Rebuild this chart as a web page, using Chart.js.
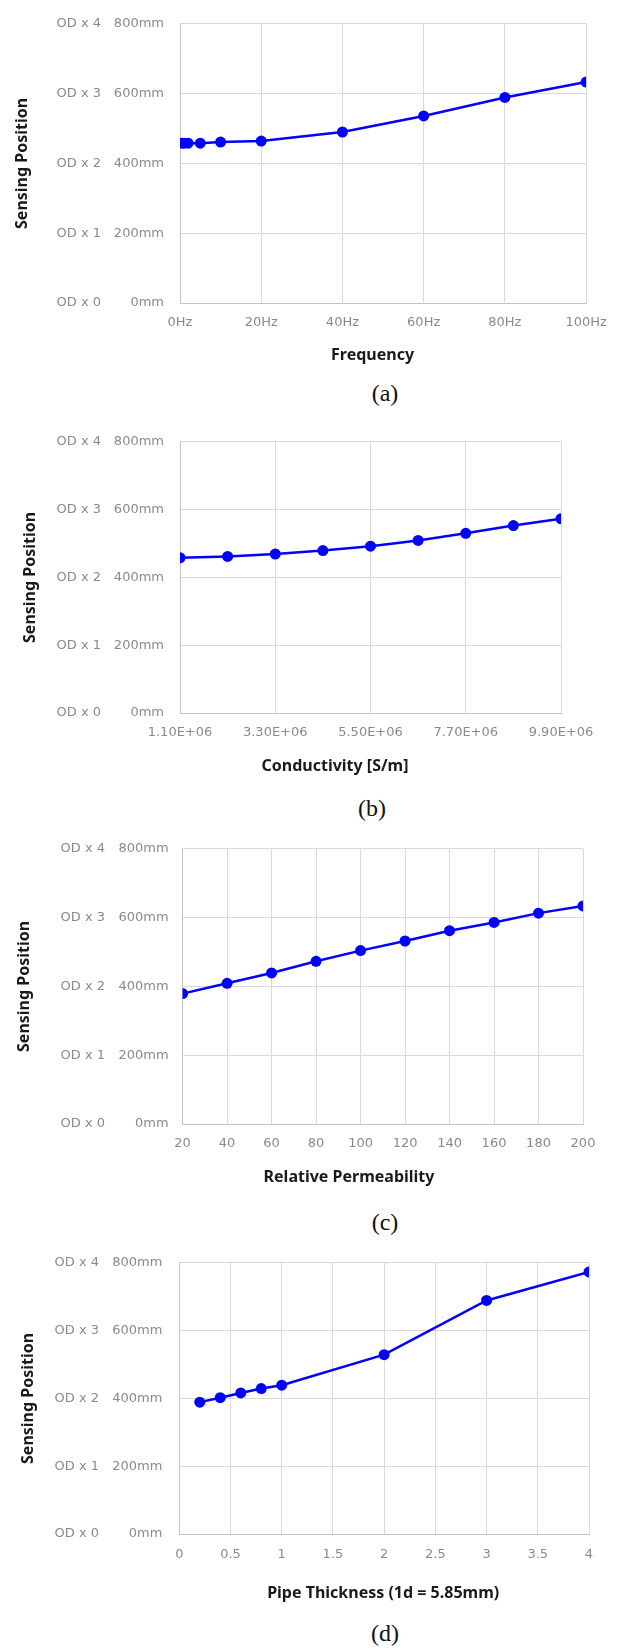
<!DOCTYPE html>
<html>
<head>
<meta charset="utf-8">
<script src="https://cdn.jsdelivr.net/npm/chart.js@4/dist/chart.umd.min.js"></script>
<style>
  html, body { margin: 0; padding: 0; background: #ffffff; }
  body { position: relative; width: 619px; height: 1648px; overflow: hidden; }
  .box { position: absolute; left: 0; width: 619px; }
  .cap { position: absolute; font-family: "Liberation Serif", "Times New Roman", serif; font-size: 24px; color: #111; transform: translate(-50%, -50%); white-space: nowrap; }
</style>
</head>
<body>
<div class="box" id="boxA"><canvas id="cA"></canvas></div>
<div class="box" id="boxB"><canvas id="cB"></canvas></div>
<div class="box" id="boxC"><canvas id="cC"></canvas></div>
<div class="box" id="boxD"><canvas id="cD"></canvas></div>
<div class="cap" style="left:385px;top:393px;">(a)</div>
<div class="cap" style="left:372px;top:808px;">(b)</div>
<div class="cap" style="left:385px;top:1222px;">(c)</div>
<div class="cap" style="left:385px;top:1633px;">(d)</div>
<script>
// ---- data ----
const yTicks = [0, 200, 400, 600, 800];

const freqHz = [0.5, 1, 2, 5, 10, 20, 40, 60, 80, 100];
const freqPos = [458, 458, 458, 458, 461, 464, 490, 536, 589, 633];
const freqTicks = [0, 20, 40, 60, 80, 100];

const condVals = [1.1e6, 2.2e6, 3.3e6, 4.4e6, 5.5e6, 6.6e6, 7.7e6, 8.8e6, 9.9e6];
const condPos = [458, 462, 469, 479, 492, 509, 530, 553, 573];
const condTicks = [1.1e6, 3.3e6, 5.5e6, 7.7e6, 9.9e6];

const permVals = [20, 40, 60, 80, 100, 120, 140, 160, 180, 200];
const permPos = [379, 409, 439, 473, 504, 532, 562, 586, 613, 634];
const permTicks = [20, 40, 60, 80, 100, 120, 140, 160, 180, 200];

const thickVals = [0.2, 0.4, 0.6, 0.8, 1, 2, 3, 4];
const thickPos = [389, 402, 416, 429, 439, 529, 689, 773];
const thickTicks = [0, 0.5, 1, 1.5, 2, 2.5, 3, 3.5, 4];

const yTitle = 'Sensing Position';

// ---- styling / layout ----
const TICK_FONT = { family: '"DejaVu Sans", "Noto Sans", sans-serif', size: 13 };
const TITLE_FONT = { family: '"Noto Sans", "Open Sans", sans-serif', size: 16, weight: 'bold' };
const TICK_COLOR = '#8a8a8a';
const GRID_COLOR = '#d9d9d9';
const BORDER_COLOR = '#c4c4c4';
const BLUE = '#0000ff';
const XH = 75;
const MMW = 72;

const titleShift = {
  id: 'titleShift',
  afterLayout(chart, args, opts) {
    const s = chart.scales.x;
    if (!s || s._shiftWrapped) return;
    const orig = s.drawTitle;
    s.drawTitle = function () {
      const ctx = this.ctx;
      ctx.save();
      ctx.translate(opts.dx || 0, 0);
      orig.call(this);
      ctx.restore();
    };
    s._shiftWrapped = true;
  }
};

function makeChart(cfg) {
  const plotH = cfg.bottom - cfg.top;
  const canvasTop = Math.round(cfg.top - 15);
  const padTop = cfg.top - canvasTop;
  const H = Math.round(padTop + plotH + XH);
  const box = document.getElementById(cfg.box);
  box.style.top = canvasTop + 'px';
  box.style.height = H + 'px';
  const cv = document.getElementById(cfg.canvas);
  cv.width = 619; cv.height = H;
  cv.style.width = '619px'; cv.style.height = H + 'px';

  const pts = cfg.xs.map((x, i) => ({ x: x, y: cfg.ys[i] }));

  return new Chart(cv, {
    type: 'line',
    data: {
      datasets: [{
        data: pts,
        yAxisID: 'y',
        xAxisID: 'x',
        borderColor: BLUE,
        backgroundColor: BLUE,
        borderWidth: 2.5,
        pointRadius: 5.5,
        pointHoverRadius: 5.5,
        pointBackgroundColor: BLUE,
        pointBorderColor: BLUE,
        pointBorderWidth: 0,
        tension: 0,
        fill: false
      }]
    },
    options: {
      responsive: false,
      animation: false,
      events: [],
      layout: { padding: { top: padTop, left: 0, right: 619 - cfg.right, bottom: 0 } },
      plugins: { legend: { display: false }, tooltip: { enabled: false }, titleShift: { dx: cfg.dx } },
      scales: {
        x: {
          type: 'linear',
          position: 'bottom',
          min: cfg.xTicks[0],
          max: cfg.xTicks[cfg.xTicks.length - 1],
          afterBuildTicks: s => { s.ticks = cfg.xTicks.map(v => ({ value: v })); },
          afterFit: s => { s.height = XH; },
          grid: { color: GRID_COLOR, lineWidth: 1, drawTicks: false },
          border: { color: BORDER_COLOR, width: 1 },
          ticks: {
            color: TICK_COLOR, font: TICK_FONT, padding: cfg.xPad, maxRotation: 0, autoSkip: false,
            callback: v => cfg.xFmt(v)
          },
          title: { display: true, text: cfg.xTitle, color: '#1a1a1a', font: TITLE_FONT,
                   padding: { top: 0, bottom: cfg.xTitlePadB } }
        },
        y: {
          type: 'linear',
          position: 'left',
          weight: 0,
          min: 0, max: 800,
          afterBuildTicks: s => { s.ticks = yTicks.map(v => ({ value: v })); },
          afterFit: s => { s.width = MMW; },
          grid: { color: GRID_COLOR, lineWidth: 1, drawTicks: false },
          border: { color: BORDER_COLOR, width: 1 },
          ticks: { color: TICK_COLOR, font: TICK_FONT, padding: cfg.mmPad, callback: v => v + 'mm' }
        },
        yod: {
          type: 'linear',
          position: 'left',
          weight: 1,
          min: 0, max: 800,
          afterBuildTicks: s => { s.ticks = yTicks.map(v => ({ value: v })); },
          afterFit: s => { s.width = cfg.left - MMW; },
          grid: { display: false, drawTicks: false },
          border: { display: false },
          ticks: { color: TICK_COLOR, font: TICK_FONT, padding: cfg.odPad, callback: v => 'OD x ' + (v / 200) },
          title: { display: true, text: yTitle, color: '#1a1a1a', font: TITLE_FONT,
                   padding: { top: cfg.yTitlePadT, bottom: 0 } }
        }
      }
    },
    plugins: [titleShift]
  });
}

makeChart({
  box: 'boxA', canvas: 'cA', top: 15, bottom: 303.3, left: 180, right: 587,
  xs: freqHz, ys: freqPos, xTicks: freqTicks, xFmt: v => v + 'Hz',
  xTitle: 'Frequency', xPad: 12.2, xTitlePadB: 12.7, dx: -10.5,
  mmPad: 16, odPad: 7, yTitlePadT: 12.4
});
makeChart({
  box: 'boxB', canvas: 'cB', top: 432.5, bottom: 713.3, left: 180, right: 561,
  xs: condVals, ys: condPos, xTicks: condTicks, xFmt: v => (v / 1e6).toFixed(2) + 'E+06',
  xTitle: 'Conductivity [S/m]', xPad: 12.2, xTitlePadB: 11.7, dx: -35.5,
  mmPad: 16, odPad: 7, yTitlePadT: 20.4
});
makeChart({
  box: 'boxC', canvas: 'cC', top: 842.3, bottom: 1124, left: 182.6, right: 583,
  xs: permVals, ys: permPos, xTicks: permTicks, xFmt: v => String(v),
  xTitle: 'Relative Permeability', xPad: 12.2, xTitlePadB: 12.4, dx: -33.8,
  mmPad: 14, odPad: 5.6, yTitlePadT: 14.9
});
makeChart({
  box: 'boxD', canvas: 'cD', top: 1253.3, bottom: 1534.3, left: 179.3, right: 589,
  xs: thickVals, ys: thickPos, xTicks: thickTicks, xFmt: v => String(v),
  xTitle: 'Pipe Thickness (1d = 5.85mm)', xPad: 13.2, xTitlePadB: 5.7, dx: -1,
  mmPad: 17, odPad: 8.3, yTitlePadT: 18.4
});
</script>
</body>
</html>
